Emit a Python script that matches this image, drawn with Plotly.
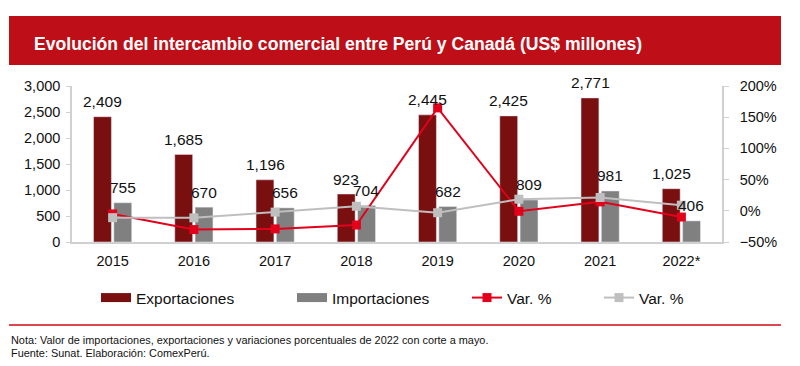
import plotly.graph_objects as go

years = ["2015", "2016", "2017", "2018", "2019", "2020", "2021", "2022*"]
exportaciones = [2409, 1685, 1196, 923, 2445, 2425, 2771, 1025]
importaciones = [755, 670, 656, 704, 682, 809, 981, 406]
var_export = [-5.0, -30.1, -29.0, -22.8, 164.9, -0.8, 14.3, -10.0]
var_import = [-11.0, -11.3, -2.1, 7.3, -3.1, 18.6, 21.3, 9.0]

title_text = "Evolución del intercambio comercial entre Perú y Canadá (US$ millones)"
note1 = "Nota: Valor de importaciones, exportaciones y variaciones porcentuales de 2022 con corte a mayo."
note2 = "Fuente: Sunat. Elaboración: ComexPerú."

C_EXP = "#7A0F0F"
C_IMP = "#808080"
C_RED = "#E3001B"
C_GRAY = "#BFBFBF"
C_AXIS = "#D0D0D0"
FONT = "Liberation Sans, Arial, sans-serif"

# page has an 8px body margin: the figure is drawn offset by OFF px
OFF = 8
W, H = 800 - OFF, 366 - OFF
L = 72 - OFF
R = W - (722 - OFF)
T = 86 - OFF
B = H - (242 - OFF)
PW = W - L - R
PH = H - T - B


def xp(px):
    # page pixel -> paper coordinate
    return (px - OFF - L) / PW


def yp(py):
    return (H - B - (py - OFF)) / PH


fig = go.Figure()

fig.add_trace(go.Bar(x=years, y=exportaciones, name="Exportaciones", marker_color=C_EXP,
                     showlegend=False, yaxis="y"))
fig.add_trace(go.Bar(x=years, y=importaciones, name="Importaciones", marker_color=C_IMP,
                     showlegend=False, yaxis="y"))
fig.add_trace(go.Scatter(x=years, y=var_export, name="Var. %", mode="lines+markers",
                         line=dict(color=C_RED, width=2),
                         marker=dict(symbol="square", size=9, color=C_RED),
                         yaxis="y2", legend="legend3"))
fig.add_trace(go.Scatter(x=years, y=var_import, name="Var. %", mode="lines+markers",
                         line=dict(color=C_GRAY, width=2),
                         marker=dict(symbol="square", size=9, color=C_GRAY),
                         yaxis="y2", legend="legend4"))
# legend swatches for the bar series (no visible marks)
fig.add_trace(go.Scatter(x=[years[0]], y=[None], name="Exportaciones", mode="lines",
                         line=dict(color=C_EXP, width=9), legend="legend", hoverinfo="skip"))
fig.add_trace(go.Scatter(x=[years[0]], y=[None], name="Importaciones", mode="lines",
                         line=dict(color=C_IMP, width=9), legend="legend2", hoverinfo="skip"))

annotations = []
for i, v in enumerate(exportaciones):
    annotations.append(dict(x=i, y=v, xref="x", yref="y", text=f"{v:,}", showarrow=False,
                            xshift=-10, yshift=15, yanchor="middle",
                            font=dict(family=FONT, size=15.5, color="#111")))
for i, v in enumerate(importaciones):
    annotations.append(dict(x=i, y=v, xref="x", yref="y", text=f"{v:,}", showarrow=False,
                            xshift=10, yshift=15, yanchor="middle",
                            font=dict(family=FONT, size=15.5, color="#111")))

annotations.append(dict(x=xp(32), y=yp(44), xref="paper", yref="paper", text=f"<b>{title_text}</b>",
                        showarrow=False, xanchor="left", yanchor="middle",
                        font=dict(family=FONT, size=17.6, color="white")))
annotations.append(dict(x=xp(9), y=yp(340), xref="paper", yref="paper", text=note1,
                        showarrow=False, xanchor="left", yanchor="middle",
                        font=dict(family=FONT, size=10.9, color="#111")))
annotations.append(dict(x=xp(9), y=yp(353), xref="paper", yref="paper", text=note2,
                        showarrow=False, xanchor="left", yanchor="middle",
                        font=dict(family=FONT, size=10.9, color="#111")))

shapes = [
    dict(type="rect", xref="paper", yref="paper", x0=xp(9), x1=xp(781), y0=yp(65), y1=yp(16),
         fillcolor="#BE0F19", line=dict(width=0), layer="below"),
    dict(type="line", xref="paper", yref="paper", x0=xp(9), x1=xp(781), y0=yp(325), y1=yp(325),
         line=dict(color="#DE4750", width=2)),
]

legend_font = dict(family=FONT, size=15.5, color="#111")
ly = yp(298)


def leg(x):
    return dict(x=xp(x), y=ly, xanchor="left", yanchor="middle", orientation="h",
                font=legend_font, bgcolor="rgba(0,0,0,0)", itemwidth=30)


fig.update_layout(
    width=W, height=H,
    margin=dict(l=L, r=R, t=T, b=B),
    paper_bgcolor="white", plot_bgcolor="white",
    barmode="group", bargap=0.5, bargroupgap=0.12,
    font=dict(family=FONT, size=14, color="#111"),
    xaxis=dict(type="category", categoryorder="array", categoryarray=years, range=[-0.5, 7.5],
               showline=True, linecolor=C_AXIS, linewidth=1.5,
               ticks="outside", ticklen=5, tickcolor="rgba(0,0,0,0)",
               tickfont=dict(size=14.5), showgrid=False),
    yaxis=dict(range=[0, 3000], dtick=500, tickformat=",", showline=True, linecolor=C_AXIS,
               linewidth=1.5, ticks="outside", ticklen=4, tickcolor=C_AXIS, showgrid=False,
               zeroline=False, tickfont=dict(size=14.5), ticklabelstandoff=3),
    yaxis2=dict(range=[-50, 200], dtick=50, ticksuffix="%", overlaying="y", side="right",
                showline=True, linecolor=C_AXIS, linewidth=1.5, ticks="outside", ticklen=5,
                tickcolor=C_AXIS, showgrid=False, zeroline=False, tickfont=dict(size=14.5),
                ticklabelstandoff=8),
    legend=leg(96),
    legend2=leg(292),
    legend3=leg(467),
    legend4=leg(599),
    annotations=annotations,
    shapes=shapes,
)

fig.write_html("out.html")
